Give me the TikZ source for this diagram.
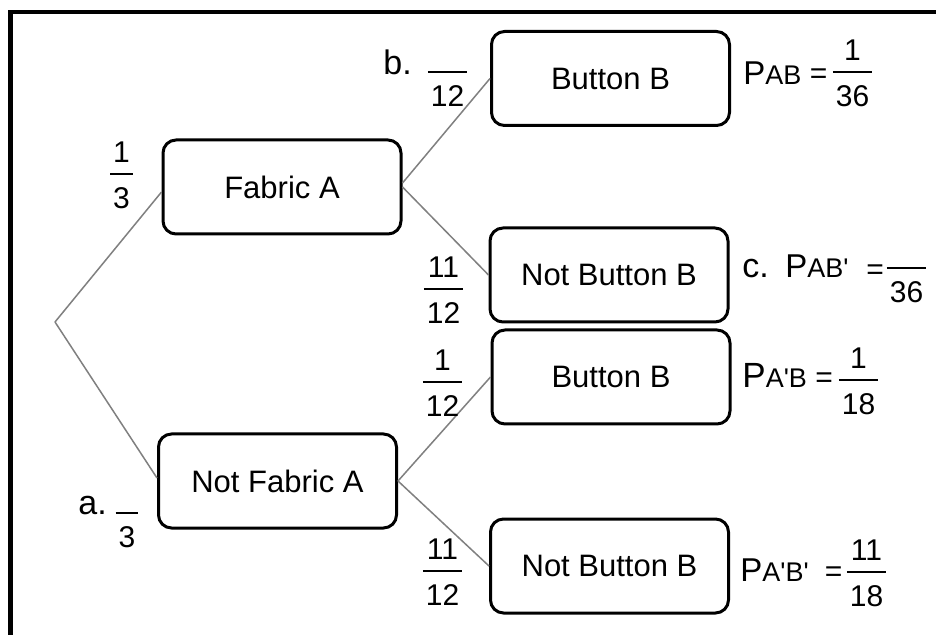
\documentclass[tikz,border=0pt]{standalone}
\usepackage{fontspec}
\setmainfont{Liberation Sans}[Ligatures=TeXOff]

% stacked fraction with a horizontal bar; the bar sits 2pt above the box centre
\newcommand\frc[2]{{\fontsize{15}{18}\selectfont
  \setlength\arrayrulewidth{1pt}\renewcommand\arraystretch{1}%
  \begin{tabular}{@{\hspace{1.5pt}}c@{\hspace{1.5pt}}}#1\\\hline\noalign{\vskip4pt}#2\end{tabular}}}

\definecolor{edgegray}{gray}{0.5}

\tikzset{
  box/.style={draw=black, line width=1.5pt, rounded corners=6.5pt,
    minimum width=119pt, minimum height=47pt, inner sep=0pt,
    font=\fontsize{15.5}{18}\selectfont},
  branch/.style={draw=edgegray, line width=0.75pt},
  fracnode/.style={inner sep=0pt},
  lab/.style={inner sep=0pt, anchor=base west, font=\fontsize{17}{20}\selectfont},
  pnode/.style={inner sep=0pt, anchor=base west, font=\fontsize{16.5}{19}\selectfont},
  subtxt/.style={font=\fontsize{13.5}{16}\selectfont},
  eqnode/.style={inner sep=0pt, anchor=base, font=\fontsize{15}{18}\selectfont},
  frame/.style={draw=black, line width=2.2pt}
}
\newcommand\psub[1]{{\fontsize{13.5}{16}\selectfont #1}}

\begin{document}
\begin{tikzpicture}[x=0.5pt, y=-0.5pt]
  \useasboundingbox[fill=white] (0,0) rectangle (936,635);

  % outer frame (only the top and left edges fall inside the page)
  \begin{scope}
    \clip (0,0) rectangle (936,635);
    \draw[frame] (10.5,660) |- (960,12);
  \end{scope}

  % tree nodes
  \coordinate (root) at (55,322);
  \node[box] (fabA) at (282,187)   {Fabric A};
  \node[box] (notA) at (277.5,481) {Not Fabric A};
  \node[box] (bb1)  at (610.5,78.5) {Button B};
  \node[box] (nb1)  at (609,275)   {Not Button B};
  \node[box] (bb2)  at (611,377)   {Button B};
  \node[box] (nb2)  at (609.5,566) {Not Button B};

  % branches
  \draw[branch] (root) -- ([yshift=-2.5]fabA.west);
  \draw[branch] (root) -- ([yshift=1.5]notA.west);
  \draw[branch] ([yshift=2]fabA.east) -- (bb1.west);
  \draw[branch] (fabA.east) -- (nb1.west);
  \draw[branch] (notA.east) -- (bb2.west);
  \draw[branch] (notA.east) -- (nb2.west);

  % branch probabilities
  \node[fracnode] (fA)   at (121.5,178) {\frc{1}{3}};
  \node[fracnode] (fnA)  at (127,517)   {\frc{}{3}};
  \node[fracnode] (fB1)  at (447.5,76)  {\frc{}{12}};
  \node[fracnode] (fnB1) at (443.5,293) {\frc{11}{12}};
  \node[fracnode] (fB2)  at (442.5,386) {\frc{1}{12}};
  \node[fracnode] (fnB2) at (442.5,575) {\frc{11}{12}};

  % question labels
  \node[lab] (la) at (78,515)  {a.};
  \node[lab] (lb) at (383,75)  {b.};
  \node[lab] (lc) at (742,278) {c.};

  % joint probabilities
  \node[pnode] (pab) at (743,85) {P\psub{AB}};
  \node[eqnode] (eab) at (818.5,83.5) {=};
  \node[fracnode] (rab) at (852.5,76) {\frc{1}{36}};

  \node[pnode] (pabn) at (785,278) {P\psub{AB'}};
  \node[eqnode] (eabn) at (875,279.5) {=};
  \node[fracnode] (rabn) at (906.5,272) {\frc{}{36}};

  \node[pnode, font=\fontsize{17.5}{20}\selectfont] (pnab) at (742,388) {P\psub{A'B}};
  \node[eqnode] (enab) at (824,387.5) {=};
  \node[fracnode] (rnab) at (858.5,384) {\frc{1}{18}};

  \node[pnode] (pnabn) at (740,581) {P\psub{A'B'}};
  \node[eqnode] (enabn) at (833.5,581.5) {=};
  \node[fracnode] (rnabn) at (866.5,576) {\frc{11}{18}};
\end{tikzpicture}
\end{document}
